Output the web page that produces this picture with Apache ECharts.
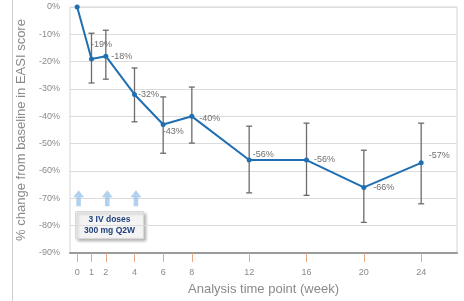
<!DOCTYPE html>
<html>
<head>
<meta charset="utf-8">
<title>EASI score change</title>
<script src="https://cdn.jsdelivr.net/npm/echarts@6/dist/echarts.min.js"></script>
<style>
  html, body { margin: 0; padding: 0; background: #fff; }
</style>
</head>
<body>
<div id="main" style="width:464px;height:301px;"></div>
<script>
// weeks and mean % change from baseline
var weeks = [0, 1, 2, 4, 6, 8, 12, 16, 20, 24];
var meanChange = [0, -19, -18, -32, -43, -40, -56, -56, -66, -57];
// error bar ends
var errHigh = [null, -9.6, -8.5, -22.3, -32.9, -29.3, -43.6, -42.5, -52.4, -42.5];
var errLow = [null, -27.8, -26.4, -42, -53.5, -49.8, -68, -68.9, -78.8, -72];
// tick labels on the x axis
var xTicks = [0, 1, 2, 4, 6, 8, 12, 16, 20, 24];
// IV dose weeks (arrows)
var doseWeeks = [0, 2, 4];
var doseLevel = -70;

// label placement per point
var labelPos = [null, [-8, -14], [-2, 0], [-4, 0], [-8, 7], [0, 2], [-4, -6], [0, -1], [2, 0], [0, -7]];

var lineData = weeks.map(function (w, i) {
  var d = { value: [w, meanChange[i]] };
  if (labelPos[i]) {
    d.label = { show: true, position: 'right', offset: labelPos[i] };
  }
  return d;
});

var errData = weeks.map(function (w, i) {
  return errHigh[i] == null ? null : [w, errHigh[i], errLow[i]];
}).filter(function (d) { return d; });

var chart = echarts.init(document.getElementById('main'));
chart.setOption({
  animation: false,
  textStyle: { fontFamily: 'Liberation Sans, Arial, sans-serif' },
  grid: {
    left: 70, right: 7, top: 7, bottom: 48,
    show: true, borderColor: '#d4d4d4', borderWidth: 1
  },
  xAxis: {
    type: 'value',
    min: -0.5, max: 26.5,
    name: 'Analysis time point (week)',
    nameLocation: 'middle',
    nameGap: 30,
    nameTextStyle: { color: '#8a8a8a', fontSize: 13 },
    splitLine: { show: false },
    axisLine: { onZero: false, lineStyle: { color: '#9a9a9a', width: 2 } },
    axisTick: {
      customValues: xTicks, length: 9,
      lineStyle: { color: '#e8a783', width: 1 }
    },
    axisLabel: {
      customValues: xTicks, color: '#8a8a8a', fontSize: 9, margin: 15
    }
  },
  yAxis: {
    type: 'value',
    min: -90, max: 0, interval: 10,
    name: '% change from baseline in EASI score',
    nameLocation: 'middle',
    nameGap: 42,
    nameTextStyle: { color: '#8a8a8a', fontSize: 13 },
    axisLine: { show: false },
    axisTick: { show: false },
    axisLabel: { color: '#8a8a8a', fontSize: 9, margin: 10, formatter: '{value}%' },
    splitLine: { lineStyle: { color: '#dcdcdc' } }
  },
  series: [
    {
      type: 'custom',
      data: errData,
      z: 1,
      renderItem: function (params, api) {
        var x = api.value(0);
        var top = api.coord([x, api.value(1)]);
        var bot = api.coord([x, api.value(2)]);
        var hw = 3;
        var st = { stroke: '#6b6b6b', lineWidth: 1.3 };
        return {
          type: 'group',
          children: [
            { type: 'line', shape: { x1: top[0], y1: top[1], x2: bot[0], y2: bot[1] }, style: st },
            { type: 'line', shape: { x1: top[0] - hw, y1: top[1], x2: top[0] + hw, y2: top[1] }, style: st },
            { type: 'line', shape: { x1: bot[0] - hw, y1: bot[1], x2: bot[0] + hw, y2: bot[1] }, style: st }
          ]
        };
      }
    },
    {
      type: 'line',
      data: lineData,
      z: 3,
      symbol: 'circle',
      symbolSize: 5,
      lineStyle: { color: '#1f6fb2', width: 2 },
      itemStyle: { color: '#1f6fb2' },
      label: {
        color: '#6e6e6e', fontSize: 9,
        formatter: function (p) { return Math.round(p.value[1]) + '%'; }
      }
    },
    {
      type: 'scatter',
      data: doseWeeks.map(function (w) { return [w + 0.1, doseLevel]; }),
      symbol: 'path://M6,0 L12,7 L8.5,7 L8.5,16 L3.5,16 L3.5,7 L0,7 Z',
      symbolSize: [11, 16],
      itemStyle: { color: '#9fc6ea' },
      z: 2
    }
  ],
  graphic: [
    {
      type: 'line',
      shape: { x1: 12.5, y1: 0, x2: 12.5, y2: 301 },
      style: { stroke: '#cfcfcf', lineWidth: 1 }
    },
    {
      type: 'group',
      left: 75, top: 211,
      children: [
        {
          type: 'rect',
          shape: { width: 68, height: 27 },
          style: {
            fill: '#f4f4f4', stroke: '#d8d8d8', lineWidth: 1,
            shadowBlur: 3, shadowOffsetX: 2, shadowOffsetY: 2, shadowColor: 'rgba(0,0,0,0.3)'
          }
        },
        {
          type: 'text',
          x: 34, y: 13.5,
          style: {
            text: '3 IV doses\n300 mg Q2W',
            fill: '#1f3f7a', fontSize: 8.5, fontWeight: 'bold',
            align: 'center', verticalAlign: 'middle', lineHeight: 11,
            fontFamily: 'Liberation Sans, Arial, sans-serif'
          }
        }
      ]
    }
  ]
});
</script>
</body>
</html>
